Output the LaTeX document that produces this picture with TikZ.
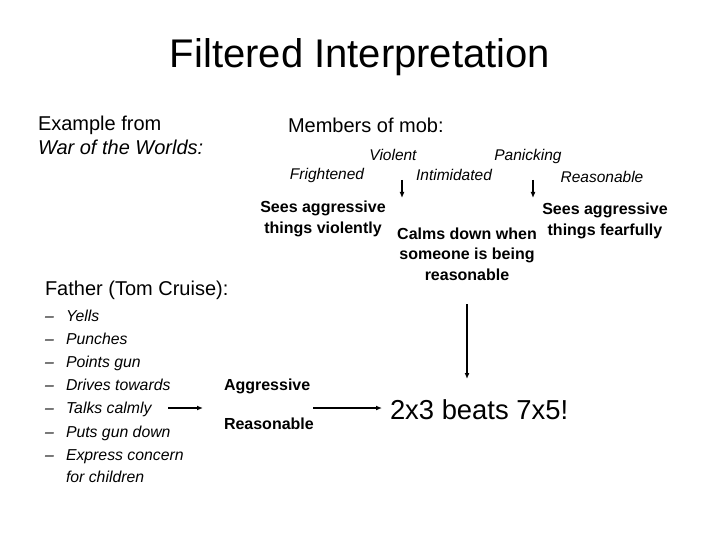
\documentclass[tikz,border=0pt]{standalone}
\usepackage{fontspec}
\setmainfont{Liberation Sans}
\usetikzlibrary{arrows.meta}
\begin{document}
\begin{tikzpicture}[x=1pt,y=-1pt,
  every node/.style={inner sep=0pt,outer sep=0pt},
  big/.style={font=\fontsize{20}{24}\selectfont},
  lab/.style={font=\fontsize{15.5}{19}\selectfont\itshape,anchor=base},
  bold/.style={font=\fontsize{16}{20.5}\selectfont\bfseries,align=center},
  item/.style={font=\fontsize{15.8}{19}\selectfont\itshape,anchor=base west},
  arr/.style={-{Latex[length=6pt,width=5pt]},line width=1.2pt}]
\useasboundingbox (0,0) rectangle (720,540);
\node (title) at (360,57) {\fontsize{40}{48}\selectfont Filtered Interpretation};
\node[big,anchor=west,align=left] (ex) at (38,135) {Example from\\\itshape War of the Worlds:};
\node[big,anchor=west] (mob) at (288,125) {Members of mob:};
\node[lab] (violent) at (393,161) {Violent};
\node[lab] (panic) at (528,161) {Panicking};
\node[lab] (fright) at (327,180) {Frightened};
\node[lab] (intim) at (454,181) {Intimidated};
\node[lab] (reas) at (602,183) {Reasonable};
\coordinate (a1s) at (402,180); \coordinate (a1e) at (402,198);
\coordinate (a2s) at (533,180); \coordinate (a2e) at (533,198);
\draw[arr] (a1s) -- (a1e);
\draw[arr] (a2s) -- (a2e);
\node[bold] (viol) at (323,219) {Sees aggressive\\things violently};
\node[bold] (calm) at (467,254) {Calms down when\\someone is being\\reasonable};
\node[bold] (fear) at (605,221) {Sees aggressive\\things fearfully};
\node[big,anchor=west] (father) at (45,290) {Father (Tom Cruise):};
\foreach \y/\t [count=\i] in {316/Yells,339/Punches,362/Points gun,385/Drives towards,408/Talks calmly,432/Puts gun down,455/Express concern}{
  \node[item] (d\i) at (45,\y+5.5) {–};
  \node[item] (it\i) at (66,\y+5.5) {\t};
}
\node[item] (it8) at (66,477+5.5) {for children};
\node[bold,anchor=base west] (agg) at (224,390) {Aggressive};
\node[bold,anchor=base west] (rsn) at (224,429) {Reasonable};
\coordinate (s1) at (168,408); \coordinate (e1) at (203,408);
\draw[arr] (s1) -- (e1);
\coordinate (s2) at (313,408); \coordinate (e2) at (382,408);
\draw[arr] (s2) -- (e2);
\node[anchor=base west,font=\fontsize{27.4}{32}\selectfont] (beats) at (390,419) {2x3 beats 7x5!};
\coordinate (vtop) at (467,304); \coordinate (vend) at (467,379);
\draw[arr] (vtop) -- (vend);
\end{tikzpicture}
\end{document}
